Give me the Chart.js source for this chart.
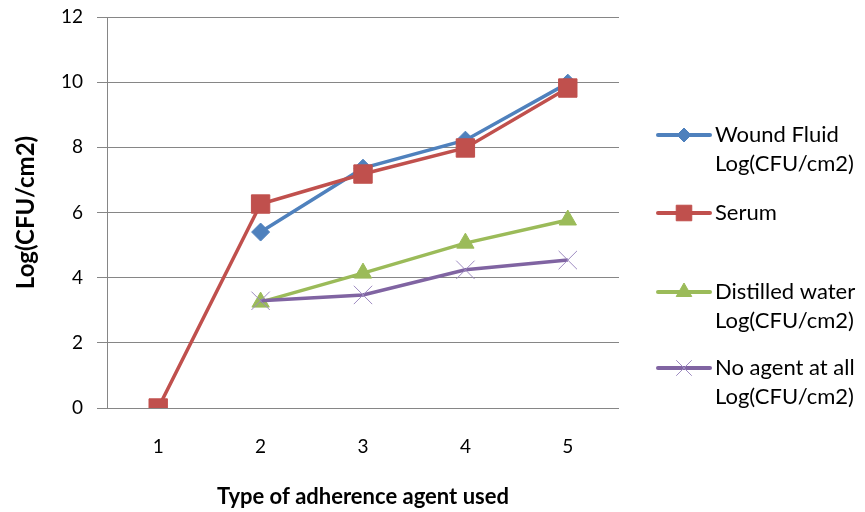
<!DOCTYPE html>
<html>
<head>
<meta charset="utf-8">
<script src="https://cdn.jsdelivr.net/npm/chart.js@4/dist/chart.umd.min.js"></script>
<style>
  html, body { margin: 0; padding: 0; background: #ffffff; }
  #wrap { width: 865px; height: 512px; position: relative; }
</style>
</head>
<body>
<div id="wrap"><canvas id="c" width="865" height="512"></canvas></div>
<script>
const categories = ['1', '2', '3', '4', '5'];
const woundFluid = [null, 5.40, 7.36, 8.22, 9.97];
const serum = [0.0, 6.26, 7.18, 7.98, 9.82];
const distilledWater = [null, 3.25, 4.14, 5.06, 5.77];
const noAgent = [null, 3.29, 3.47, 4.24, 4.54];
const seriesLabels = [
  ['Wound Fluid', 'Log(CFU/cm2)'],
  ['Serum'],
  ['Distilled water', 'Log(CFU/cm2)'],
  ['No agent at all', 'Log(CFU/cm2)']
];
const yTicks = [0, 2, 4, 6, 8, 10, 12];
const xTitle = 'Type of adherence agent used';
const yTitle = 'Log(CFU/cm2)';

const FONT = 'Lato';
const BLUE = '#4F81BD', RED = '#C0504D', GREEN = '#9BBB59', PURPLE = '#8064A2';

function drawMarker(ctx, style, x, y, r) {
  Chart.helpers.drawPoint(ctx, { pointStyle: style, rotation: 0, borderWidth: ctx.lineWidth, radius: r }, x, y);
}

const legendPlugin = {
  id: 'customLegend',
  afterDraw(chart) {
    const ctx = chart.ctx;
    const area = chart.chartArea;
    const x0 = area.right + 39;
    const lineLen = 52;
    const rowY = [135, 213, 292, 368];
    const lineGap = 29;
    ctx.save();
    chart.data.datasets.forEach((ds, i) => {
      const y = rowY[i];
      ctx.strokeStyle = ds.borderColor;
      ctx.lineWidth = 4;
      ctx.lineCap = 'round';
      ctx.beginPath();
      ctx.moveTo(x0, y);
      ctx.lineTo(x0 + lineLen, y);
      ctx.stroke();
      ctx.lineCap = 'butt';
      ctx.fillStyle = ds.pointBackgroundColor;
      ctx.strokeStyle = ds.pointBorderColor;
      ctx.lineWidth = ds.pointBorderWidth;
      drawMarker(ctx, ds.pointStyle, x0 + lineLen / 2, y, ds.legendRadius);
      ctx.fillStyle = '#000000';
      ctx.font = '22px ' + FONT;
      ctx.textAlign = 'left';
      ctx.textBaseline = 'middle';
      seriesLabels[i].forEach((t, k) => {
        ctx.fillText(t, x0 + lineLen + 5, y + k * lineGap);
      });
    });
    ctx.restore();
  }
};

const ds = (label, data, color, style, radius, legendRadius, extra) => Object.assign({
  label: label,
  data: data,
  borderColor: color,
  backgroundColor: color,
  pointBackgroundColor: color,
  pointBorderColor: color,
  borderWidth: 3.5,
  pointStyle: style,
  pointRadius: radius,
  pointHoverRadius: radius,
  pointBorderWidth: 1,
  legendRadius: legendRadius,
  spanGaps: false,
  tension: 0
}, extra || {});

new Chart(document.getElementById('c'), {
  type: 'line',
  data: {
    labels: categories,
    datasets: [
      ds(seriesLabels[0].join(' '), woundFluid, BLUE, 'rectRot', 9, 7, { order: 4 }),
      ds(seriesLabels[1].join(' '), serum, RED, 'rect', 13, 11, { order: 3 }),
      ds(seriesLabels[2].join(' '), distilledWater, GREEN, 'triangle', 10, 9, { order: 2 }),
      ds(seriesLabels[3].join(' '), noAgent, PURPLE, 'crossRot', 13, 11, { order: 1, pointBorderColor: '#9D8AC0', pointBackgroundColor: '#9D8AC0' })
    ]
  },
  options: {
    responsive: false,
    animation: false,
    devicePixelRatio: 1,
    layout: { padding: { top: 17, right: 246, bottom: 0, left: 0 } },
    plugins: {
      legend: { display: false },
      tooltip: { enabled: false }
    },
    scales: {
      x: {
        offset: true,
        grid: { display: false, drawTicks: false },
        border: { display: false },
        ticks: { color: '#000000', font: { family: FONT, size: 19 }, padding: 27 },
        title: { display: true, text: xTitle, color: '#000000', font: { family: FONT, size: 22, weight: 'bold' }, padding: { top: 0, bottom: 2 } },
        afterFit(scale) { scale.height = 104; scale.paddingLeft = 0; scale.paddingRight = 0; }
      },
      y: {
        min: 0, max: 12,
        afterBuildTicks(scale) { scale.ticks = yTicks.map(v => ({ value: v })); },
        grid: { color: '#868686', lineWidth: 1, tickLength: 10, drawTicks: true },
        border: { display: true, color: '#868686', width: 1 },
        ticks: { color: '#000000', font: { family: FONT, size: 19 }, padding: 14 },
        title: { display: true, text: yTitle, color: '#000000', font: { family: FONT, size: 24, weight: 'bold' }, padding: { top: 12, bottom: 0 } },
        afterFit(scale) { scale.width = 107; scale.paddingTop = 0; scale.paddingBottom = 0; }
      }
    }
  },
  plugins: [legendPlugin]
});
</script>
</body>
</html>
